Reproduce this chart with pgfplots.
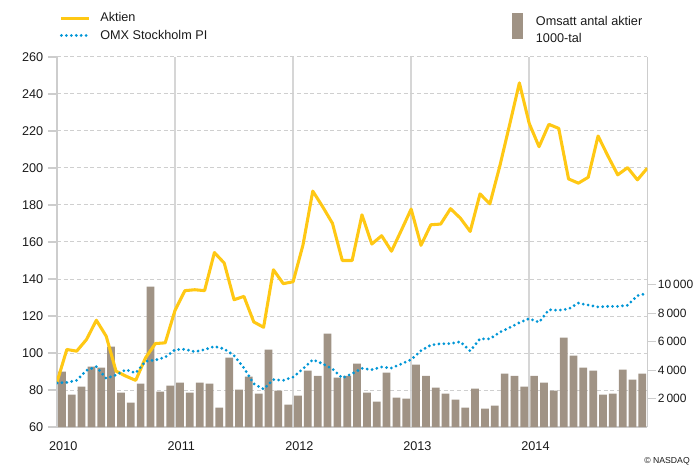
\documentclass[border=0pt]{standalone}
\usepackage{pgfplots}
\pgfplotsset{compat=1.18}
\usepackage{pgfplotstable}
\usepackage{fontspec}
\setmainfont{Liberation Sans}
\definecolor{akt}{HTML}{FFC814}
\definecolor{omx}{HTML}{0096D6}
\definecolor{bargray}{HTML}{A09385}
\definecolor{gridc}{HTML}{CFCFCF}
\definecolor{vgridc}{HTML}{D6D6D6}
\definecolor{axisc}{HTML}{CDCDCD}
\definecolor{textc}{HTML}{1A1A1A}

\pgfplotstableread{
k v
0 84.3
1 101.9
2 101.0
3 107.3
4 117.7
5 109.1
6 90.2
7 87.5
8 85.2
9 97.4
10 105.1
11 105.5
12 123.1
13 133.7
14 134.2
15 133.7
16 154.3
17 148.6
18 128.8
19 130.6
20 116.8
21 113.9
22 145.0
23 137.5
24 138.5
25 158.3
26 187.5
27 179.1
28 170.1
29 150.0
30 150.0
31 174.7
32 158.9
33 163.4
34 155.0
35 166.3
36 177.8
37 158.2
38 169.3
39 169.7
40 178.0
41 172.9
42 165.7
43 186.0
44 180.6
45 200.8
46 223.2
47 246.0
48 224.1
49 211.5
50 223.6
51 221.4
52 194.1
53 191.8
54 195.0
55 217.3
56 206.5
57 196.3
58 200.2
59 193.6
60 199.9
}\aktien

\pgfplotstableread{
k v
0 83.8
1 84.1
2 85.2
3 90.6
4 92.6
5 86.3
6 88.1
7 91.0
8 89.2
9 95.5
10 96.2
11 97.7
12 101.8
13 102.0
14 100.7
15 101.8
16 103.6
17 102.2
18 98.6
19 91.9
20 83.4
21 80.5
22 85.6
23 85.2
24 87.0
25 91.4
26 96.4
27 94.2
28 91.4
29 86.5
30 88.8
31 91.7
32 91.0
33 92.4
34 91.9
35 94.1
36 96.4
37 101.3
38 104.3
39 105.0
40 105.1
41 106.1
42 101.1
43 107.7
44 107.6
45 111.2
46 113.7
47 116.4
48 118.6
49 116.6
50 123.4
51 123.1
52 123.8
53 127.0
54 125.9
55 124.9
56 125.2
57 125.2
58 125.8
59 131.0
60 132.3
}\omxdata

\pgfplotstableread{
k v
0 3887
1 2275
2 2834
3 4238
4 4173
5 5642
6 2418
7 1716
8 3042
9 9867
10 2483
11 2899
12 3120
13 2418
14 3120
15 3042
16 1365
17 4875
18 2626
19 3536
20 2340
21 5434
22 2548
23 1573
24 2197
25 3965
26 3601
27 6565
28 3471
29 3601
30 4446
31 2418
32 1781
33 3822
34 2067
35 1989
36 4381
37 3601
38 2769
39 2340
40 1924
41 1365
42 2691
43 1287
44 1495
45 3744
46 3601
47 2834
48 3601
49 3120
50 2548
51 6279
52 5018
53 4173
54 3965
55 2275
56 2340
57 4030
58 3328
59 3744
}\bars

\begin{document}
\begin{tikzpicture}
\pgfplotsset{
  base/.style={scale only axis, width=442.7pt, height=277.5pt,
    xmin=0, xmax=60, at={(0pt,0pt)}, anchor=south west,
    /pgf/number format/assume math mode=true,
    tick label style={font=\fontsize{9.5}{11}\selectfont, text=textc}},
}
% axis 1: grid and left axis
\begin{axis}[base, ymin=60, ymax=260, ytick={60,80,...,260},
  xtick={0,12,24,36,48}, xticklabels={2010,2011,2012,2013,2014},
  axis x line*=bottom, axis y line*=left,
  axis line style={-, draw=axisc, line width=1.1pt},
  x axis line style={-}, y axis line style={-},
  ymajorgrids, xmajorgrids,
  y grid style={gridc, line width=0.75pt, dash pattern=on 3pt off 2pt},
  x grid style={vgridc, line width=1.1pt},
  tick align=outside, major tick length=6.75pt,
  ytick style={draw=axisc, line width=0.8pt},
  xtick style={draw=none},
  xticklabel style={xshift=4.7pt, yshift=-1pt}]
\addplot[draw=none, forget plot] coordinates {(0,60)};
\end{axis}
% axis 2: bars, right axis
\begin{axis}[base, ymin=0, ymax=26000,
  axis y line*=right, axis x line=none,
  axis line style={-, draw=axisc, line width=0.8pt},
  y axis line style={-},
  ytick={2000,4000,6000,8000,10000},
  scaled y ticks=false,
  tick align=outside, major tick length=6.75pt,
  ytick style={draw=axisc, line width=0.8pt},
  yticklabel style={font=\fontsize{9}{11}\selectfont, inner xsep=1pt,
    /pgf/number format/fixed, /pgf/number format/1000 sep={\,}},
  legend style={draw=none, fill=none, at={(0,1)}, anchor=north west,
    xshift=341.25pt, yshift=33pt, inner sep=0pt,
    font=\fontsize{9.5}{12.5}\selectfont, text=textc,
    cells={align=left}, column sep=7.5pt}]
\addplot[ybar, bar width=5.8pt, fill=bargray, draw=none,
  legend image code/.code={\fill[bargray] (0pt,-6.75pt) rectangle (8.25pt,12.75pt);}]
  table[x expr=\thisrow{k}+0.5, y=v] {\bars};
\addlegendentry{Omsatt antal aktier\\1000-tal}
\end{axis}
% axis 3: lines
\begin{axis}[base, ymin=60, ymax=260, hide axis,
  legend image code/.code={\draw[#1] (0pt,0pt) -- (21pt,0pt);},
  legend cell align=left,
  legend style={draw=none, fill=none, at={(0,1)}, anchor=south west,
    xshift=2pt, yshift=9.75pt, inner sep=0pt, row sep=0.5pt, column sep=5pt,
    font=\fontsize{9.5}{11}\selectfont, text=textc}]
\addplot[akt, line width=2.3pt, line join=round] table[x=k, y=v] {\aktien};
\addplot[omx, line width=2.3pt, line cap=round, dash pattern=on 0pt off 3.7pt] table[x=k, y=v] {\omxdata};
\legend{Aktien, OMX Stockholm PI}
\end{axis}
\node[anchor=west, font=\fontsize{6.5}{8}\selectfont, text=textc] at (437pt,-25.5pt) {© NASDAQ};
\pgfresetboundingbox
\path[use as bounding box] (-42.75pt,-30.75pt) rectangle (479.25pt,320.25pt);
\end{tikzpicture}
\end{document}
